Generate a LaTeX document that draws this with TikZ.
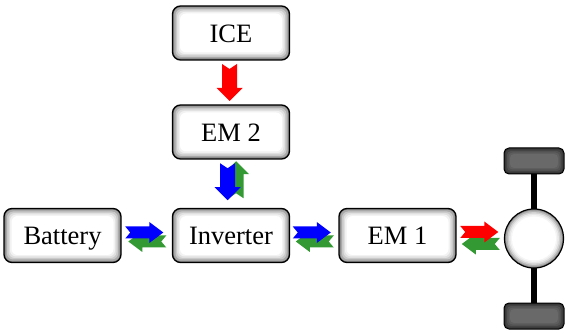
\documentclass[tikz,border=0pt]{standalone}
\usepackage{fontspec}
\setmainfont{Liberation Serif}
\usetikzlibrary{calc}
\definecolor{agreen}{rgb}{0.2,0.6,0.2}
\tikzset{
  gbox/.style={rectangle, draw=black, line width=1.3pt, rounded corners=8pt,
    minimum width=117pt, minimum height=54pt, inner sep=0pt,
    text height=19pt, text depth=0pt,
    font=\fontsize{26.5}{30}\selectfont,
    path picture={
      \foreach \i/\c in {0/50,1.5/34,3/21,4.5/12,6/5,7.5/0}{
        \fill[black!\c, rounded corners=6pt]
          ([shift={(\i pt,\i pt)}]path picture bounding box.south west) rectangle
          ([shift={(-\i pt,-\i pt)}]path picture bounding box.north east);
      }}},
  tire/.style={rectangle, draw=black, line width=1pt, rounded corners=5pt,
    minimum width=60pt, minimum height=26pt, inner sep=0pt,
    path picture={
      \foreach \i/\c in {0/80,1.5/74,3/68,4.5/63,6/59}{
        \fill[black!\c, rounded corners=4pt]
          ([shift={(\i pt,\i pt)}]path picture bounding box.south west) rectangle
          ([shift={(-\i pt,-\i pt)}]path picture bounding box.north east);
      }}},
  hub/.style={circle, draw=black, line width=1.2pt, minimum size=59pt, inner sep=0pt,
    path picture={
      \foreach \i/\c in {0/45,1.5/30,3/18,4.5/9,6/4,7.5/0}{
        \fill[black!\c] (path picture bounding box.center) circle ({(29.5-\i)*1pt});
      }}},
  axle/.style={line width=6pt, black},
}
\newcommand\harrow[3]{%
  \fill[#3, shift={#1}, rotate=#2] (-19,-6) -- (5,-6) -- (5,-10.5) -- (19,0) -- (5,10.5) -- (5,6) -- (-19,6) -- (-14,0) -- cycle;}
\newcommand\varrow[3]{%
  \fill[#3, shift={#1}, rotate=#2] (-18.5,-7.5) -- (5.5,-7.5) -- (5.5,-13) -- (18.5,0) -- (5.5,13) -- (5.5,7.5) -- (-18.5,7.5) -- (-13.5,0) -- cycle;}
\begin{document}
\begin{tikzpicture}[x=1pt,y=-1pt]
\useasboundingbox (0,0) rectangle (565,331);
% wheel
\coordinate (tc) at (534,161);
\coordinate (bc) at (534,316);
\draw[axle] (tc) -- (bc);
\node[tire] (tt) at (tc) {};
\node[tire] (tb) at (bc) {};
\node[hub] (wh) at (534,238.5) {};
% boxes
\node[gbox] (ice) at (231,33) {ICE};
\node[gbox] (em2) at (231,132) {EM 2};
\node[gbox] (bat) at (62.5,235.5) {Battery};
\node[gbox] (inv) at (231,235.5) {Inverter};
\node[gbox] (em1) at (397.5,235.5) {EM 1};
% arrows
\coordinate (m1) at ($(bat.east)!0.5!(inv.west)$);
\coordinate (m2) at ($(inv.east)!0.5!(em1.west)$);
\coordinate (m3) at ($(em1.east)!0.5!(wh.west)$);
\coordinate (m4) at ($(ice.south)!0.5!(em2.north)$);
\coordinate (m5) at ($(em2.south)!0.5!(inv.north)$);
\harrow{($(m1)+(0.5,6)$)}{180}{agreen}
\harrow{($(m1)+(-2.5,-3)$)}{0}{blue}
\harrow{($(m2)+(0.5,6)$)}{180}{agreen}
\harrow{($(m2)+(-2.5,-3)$)}{0}{blue}
\harrow{($(m3)+(0.5,7)$)}{180}{agreen}
\harrow{($(m3)+(-1,-5)$)}{0}{red}
\varrow{($(m4)+(-1.5,0)$)}{-90}{red}
\varrow{($(m5)+(5,-4)$)}{90}{agreen}
\varrow{($(m5)+(-3.5,-2)$)}{-90}{blue}
\end{tikzpicture}
\end{document}
